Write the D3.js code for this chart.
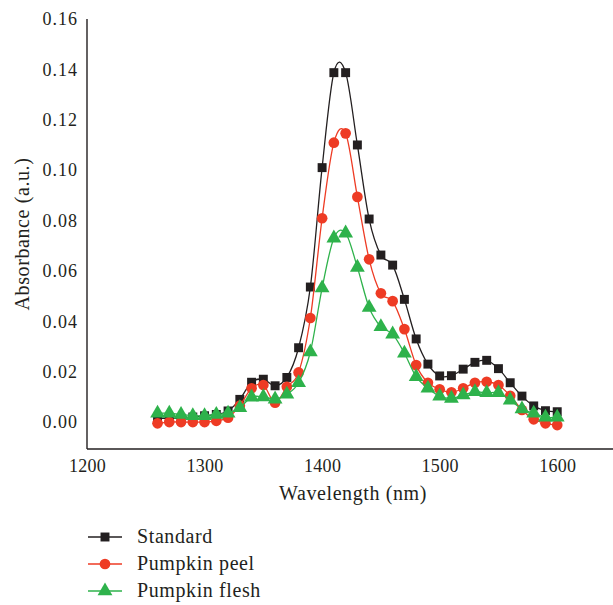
<!DOCTYPE html>
<html><head><meta charset="utf-8">
<script src="https://cdn.jsdelivr.net/npm/d3@7/dist/d3.min.js"></script>
<style>body{margin:0;background:#fff}svg{display:block}text{font-family:"Liberation Serif","Times New Roman",serif;fill:#231f20}</style>
</head><body><svg id="c" width="613" height="605"></svg>
<script>
const wavelengths = [1260,1270,1280,1290,1300,1310,1320,1330,1340,1350,1360,1370,1380,1390,1400,1410,1420,1430,1440,1450,1460,1470,1480,1490,1500,1510,1520,1530,1540,1550,1560,1570,1580,1590,1600];
const standard = [0.0015,0.0015,0.0015,0.002,0.0025,0.003,0.0044,0.009,0.0158,0.017,0.0144,0.0177,0.0295,0.0536,0.101,0.1387,0.1387,0.110,0.0806,0.0663,0.0623,0.0487,0.033,0.023,0.0183,0.0184,0.021,0.0237,0.0245,0.0212,0.0156,0.0103,0.0064,0.0045,0.0041];
const peel = [-0.0005,0.0,0.0,0.0,0.0,0.0005,0.0017,0.0065,0.0134,0.0147,0.0077,0.014,0.0197,0.0413,0.0809,0.1109,0.1146,0.0894,0.0646,0.0511,0.048,0.0369,0.0226,0.0156,0.013,0.0118,0.0134,0.0156,0.016,0.0147,0.0104,0.0048,0.0011,-0.0005,-0.0012];
const flesh = [0.0035,0.0035,0.003,0.0025,0.0025,0.003,0.0035,0.0057,0.0099,0.010,0.0091,0.011,0.0156,0.0278,0.0532,0.073,0.075,0.0614,0.0455,0.0378,0.0349,0.0273,0.018,0.0134,0.0103,0.0094,0.0107,0.012,0.0116,0.0116,0.0087,0.0052,0.0035,0.0019,0.0019];
const xTicks = [1200,1300,1400,1500,1600];
const yTicks = [0,0.02,0.04,0.06,0.08,0.10,0.12,0.14,0.16];
const seriesNames = ["Standard","Pumpkin peel","Pumpkin flesh"];
const colors = ["#231f20","#ee3b24","#2eb24b"];
const symbols = [d3.symbolSquare, d3.symbolCircle, d3.symbolTriangle];

const svg = d3.select("#c");
const x = d3.scaleLinear().domain([1200,1650]).range([87,616]);
const y = d3.scaleLinear().domain([-0.0107,0.16]).range([449,19]);

// axes
const xa = svg.append("g").attr("transform","translate(0,449)")
  .call(d3.axisBottom(x).tickValues(xTicks).tickSize(0).tickPadding(10).tickFormat(d3.format("d")));
xa.select(".domain").attr("stroke","#231f20").attr("stroke-width",1.4).attr("d","M87,0H613");
xa.selectAll("text").attr("font-size",18).attr("font-family","Liberation Serif").attr("fill","#231f20").attr("letter-spacing",0.3);
const ya = svg.append("g").attr("transform","translate(87,0)")
  .call(d3.axisLeft(y).tickValues(yTicks).tickSize(0).tickPadding(9).tickFormat(d3.format(".2f")));
ya.select(".domain").attr("stroke","#231f20").attr("stroke-width",1.4).attr("d","M0,19V449");
ya.selectAll("text").attr("font-size",18).attr("font-family","Liberation Serif").attr("fill","#231f20").attr("letter-spacing",1);

svg.append("text").attr("x",353).attr("y",500).attr("text-anchor","middle").attr("font-size",20).attr("letter-spacing",0.6).text("Wavelength (nm)");
svg.append("text").attr("transform","translate(29,234) rotate(-90)").attr("text-anchor","middle").attr("font-size",20).attr("letter-spacing",0.6).text("Absorbance (a.u.)");

const data = [standard, peel, flesh];
const line = d3.line().x((d,i)=>x(wavelengths[i])).y(d=>y(d)).curve(d3.curveCardinal.tension(0));
const sizes = [80, 90, 95];
data.forEach((vals,k)=>{
  const g = svg.append("g");
  g.append("path").datum(vals).attr("d",line).attr("fill","none").attr("stroke",colors[k]).attr("stroke-width",1.3);
  g.selectAll("path.m").data(vals).join("path").attr("class","m")
    .attr("transform",(d,i)=>`translate(${x(wavelengths[i])},${y(d)})`)
    .attr("d",d3.symbol().type(symbols[k]).size(sizes[k])).attr("fill",colors[k]);
});

// legend
const leg = svg.append("g");
seriesNames.forEach((n,k)=>{
  const yy = 537 + k*27;
  leg.append("line").attr("x1",88).attr("x2",122).attr("y1",yy).attr("y2",yy).attr("stroke",colors[k]).attr("stroke-width",1.3);
  leg.append("path").attr("transform",`translate(105,${yy})`).attr("d",d3.symbol().type(symbols[k]).size(sizes[k])).attr("fill",colors[k]);
  leg.append("text").attr("x",137).attr("y",yy+6).attr("font-size",20).attr("letter-spacing",0.6).text(n);
});
</script></body></html>
